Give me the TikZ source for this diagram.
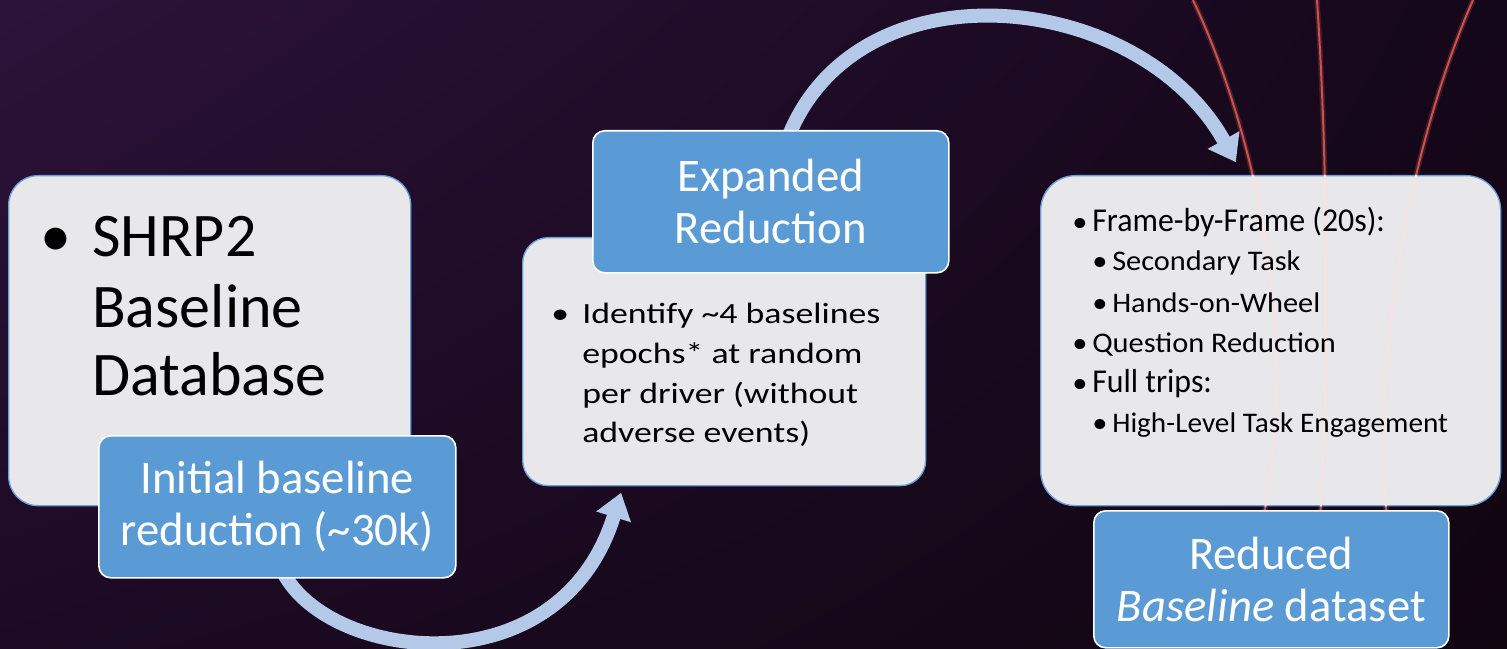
\documentclass[tikz,border=0pt]{standalone}
\usepackage{fontspec}
\setmainfont{Carlito}
\newfontfamily\wideB[FakeStretch=1.22]{Carlito}
\newfontfamily\wideC[FakeStretch=1.07]{Carlito}
\newfontfamily\wideCc[FakeStretch=1.03]{Carlito}
\newfontfamily\narrowC[FakeStretch=0.955]{Carlito}
\usetikzlibrary{arrows.meta,calc,shadings}
\definecolor{bgA}{HTML}{2C133A}
\definecolor{bgB}{HTML}{15071A}
\definecolor{bgC}{HTML}{1C0A24}
\definecolor{bgD}{HTML}{110510}
\definecolor{boxgray}{HTML}{E8E7EA}
\definecolor{boxedge}{HTML}{6A9FD8}
\definecolor{blueF}{HTML}{5B9BD5}
\definecolor{arrowC}{HTML}{B4C8E7}
\definecolor{redline}{HTML}{C9524C}
\definecolor{paleC}{HTML}{F6E4E2}
\newdimen\pxu \pxu=0.75pt
\newcommand\redone{(1193,0) .. controls (1238,95) and (1305,300) .. (1263,520)}
\newcommand\redtwo{(1317,0) .. controls (1327,150) and (1330,350) .. (1320,520)}
\newcommand\redthree{(1473,0) .. controls (1420,120) and (1370,330) .. (1387,520)}
\pgfdeclarelayer{back}
\pgfdeclarelayer{mid}
\pgfsetlayers{back,mid,main}
\begin{document}
\begin{tikzpicture}[x=0.75pt,y=-0.75pt,
  graybox/.style={draw=boxedge,line width=1pt,fill=boxgray,anchor=north west,inner sep=0pt},
  bluebox/.style={draw=white,line width=1.2pt,fill=blueF,text=white,align=center,inner sep=0pt,rounded corners=9pt,anchor=north west,font=\fontsize{35pt}{39pt}\selectfont},
  txt/.style={anchor=base west,inner sep=0pt,text=black},
  flow/.style={draw=arrowC,line width=10.5pt,-{Triangle[length=19pt,width=26pt]}},
  redglow/.style={draw=redline,line width=4pt,opacity=0.25},
  redcore/.style={draw=redline,line width=1.5pt},
  paleline/.style={draw=paleC,line width=1.5pt}]
\useasboundingbox (0,0) rectangle (1507,649);
\begin{pgfonlayer}{back}
  \shade[upper left=bgA, upper right=bgB, lower left=bgC, lower right=bgD] (0,0) rectangle (1507,649);
  \foreach \c in {\redone,\redtwo,\redthree}{
    \draw[redglow] \c;
    \draw[redcore] \c;
  }
\end{pgfonlayer}

% boxes
\node[graybox,rounded corners=22pt,minimum width=402\pxu,minimum height=330\pxu] (dbA) at (8,175) {};
\node[graybox,rounded corners=19pt,minimum width=403\pxu,minimum height=248\pxu] (expB) at (522,237) {};
\node[graybox,rounded corners=26pt,minimum width=460\pxu,minimum height=330\pxu] (redC) at (1040,175) {};
\begin{scope}
  \clip[rounded corners=26pt] (redC.north west) rectangle (redC.south east);
  \draw[paleline] \redone;
  \draw[paleline] \redtwo;
  \draw[paleline] \redthree;
\end{scope}

\node[bluebox,minimum width=357\pxu,minimum height=142\pxu] (tagA) at (98,435) {Initial baseline\\reduction (\textasciitilde30k)};
\node[bluebox,minimum width=356\pxu,minimum height=142\pxu] (tagB) at (592,130) {Expanded\\Reduction};
\node[bluebox,minimum width=355\pxu,minimum height=137\pxu] (tagC) at (1093,510) {Reduced\\\textit{Baseline} dataset};

% box A text
\begin{scope}[every node/.style={txt,font=\fontsize{46.5pt}{52pt}\selectfont}]
  \node (a1) at (40,257) {\makebox[52\pxu][l]{•}SHRP2};
  \node (a2) at (92,327) {Baseline};
  \node (a3) at (92,395) {Database};
\end{scope}

% box B text
\begin{scope}[every node/.style={txt,font=\wideB\fontsize{22pt}{30pt}\selectfont}]
  \node (b1) at (551,323) {\makebox[31\pxu][l]{•}Identify \textasciitilde4 baselines};
  \node (b2) at (582,363) {epochs* at random};
  \node (b3) at (582,403) {per driver (without};
  \node (b4) at (582,442) {adverse events)};
\end{scope}

% box C text
\begin{scope}[every node/.style={txt,font=\wideC\fontsize{21.3pt}{30pt}\selectfont}]
  \node (c1) at (1072,232) {\makebox[20\pxu][l]{•}{\narrowC\fontsize{25pt}{30pt}\selectfont Frame-by-Frame (20s):}};
  \node (c2) at (1092,270) {\makebox[20\pxu][l]{•}Secondary Task};
  \node (c3) at (1092,312) {\makebox[20\pxu][l]{•}Hands-on-Wheel};
  \node (c4) at (1072,352) {\makebox[20\pxu][l]{•}Question Reduction};
  \node (c5) at (1072,392) {\makebox[20\pxu][l]{•}{\narrowC\fontsize{25pt}{30pt}\selectfont Full trips:}};
  \node (c6) at (1092,432) {\makebox[20\pxu][l]{•}{\wideCc High-Level Task Engagement}};
\end{scope}

% connectors
\coordinate (inB) at ($(expB.south west)!0.25!(expB.south east)$);
\coordinate (inC) at ($(redC.north west)!0.44!(redC.north east)$);
\coordinate (outA) at ($(tagA.south)+(6,-6)$);
\coordinate (outB) at ($(tagB.north west)!0.55!(tagB.north east)+(0,6)$);
\begin{pgfonlayer}{mid}
  \draw[flow,shorten >=5pt] (outA) .. controls (330,662) and (560,690) .. (inB);
  \draw[flow,shorten >=11pt] (outB) .. controls (860,-40) and (1140,-10) .. (inC);
\end{pgfonlayer}
\end{tikzpicture}
\end{document}
